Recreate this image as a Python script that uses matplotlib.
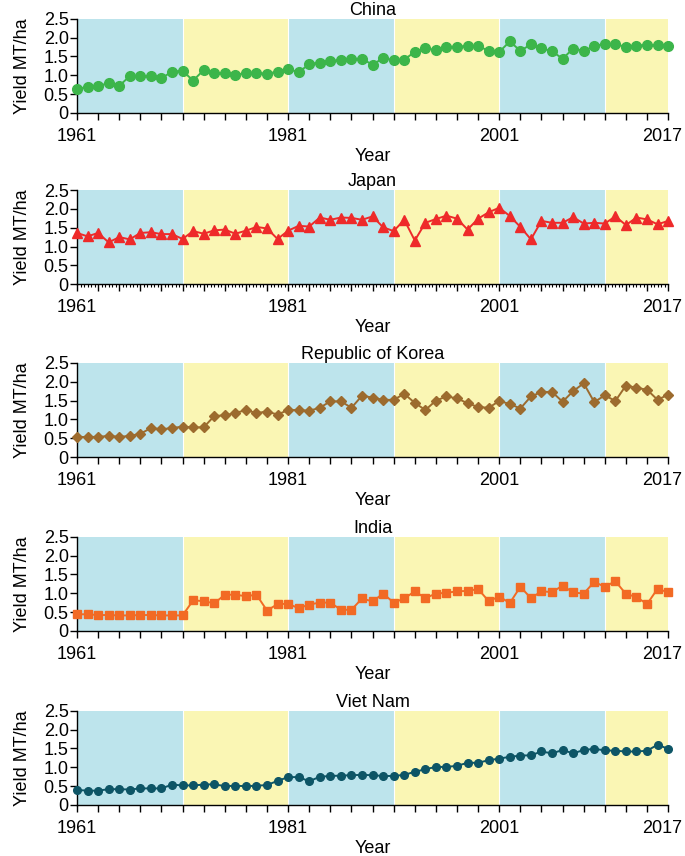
import numpy as np
import matplotlib
matplotlib.use('Agg')
import matplotlib.pyplot as plt
import matplotlib.transforms as mtransforms
from matplotlib.ticker import MultipleLocator

plt.rcParams['font.family'] = ['Liberation Sans', 'DejaVu Sans']

# 数据
years = list(range(1961, 2018))

china = [0.64, 0.69, 0.72, 0.79, 0.72, 0.98, 0.98, 0.97, 0.92, 1.10,
         1.12, 0.86, 1.14, 1.05, 1.05, 1.00, 1.07, 1.07, 1.04, 1.10,
         1.17, 1.08, 1.30, 1.34, 1.38, 1.41, 1.44, 1.44, 1.28, 1.46,
         1.40, 1.42, 1.62, 1.73, 1.66, 1.76, 1.76, 1.78, 1.78, 1.65,
         1.62, 1.90, 1.65, 1.82, 1.72, 1.64, 1.44, 1.71, 1.65, 1.77,
         1.84, 1.82, 1.76, 1.79, 1.81, 1.80, 1.79]

japan = [1.36, 1.27, 1.36, 1.11, 1.25, 1.19, 1.36, 1.38, 1.33, 1.33,
         1.20, 1.41, 1.34, 1.43, 1.45, 1.34, 1.42, 1.52, 1.48, 1.20,
         1.42, 1.55, 1.53, 1.77, 1.71, 1.77, 1.76, 1.71, 1.80, 1.51,
         1.41, 1.71, 1.16, 1.63, 1.73, 1.82, 1.74, 1.45, 1.74, 1.91,
         2.03, 1.81, 1.52, 1.19, 1.68, 1.63, 1.63, 1.78, 1.61, 1.63,
         1.61, 1.80, 1.57, 1.77, 1.72, 1.59, 1.68]

korea = [0.54, 0.53, 0.54, 0.56, 0.54, 0.56, 0.62, 0.77, 0.74, 0.77,
         0.81, 0.79, 0.79, 1.09, 1.11, 1.17, 1.25, 1.17, 1.21, 1.13,
         1.25, 1.25, 1.23, 1.31, 1.48, 1.48, 1.31, 1.63, 1.58, 1.52,
         1.52, 1.68, 1.44, 1.25, 1.50, 1.61, 1.56, 1.43, 1.33, 1.31,
         1.49, 1.41, 1.29, 1.61, 1.73, 1.73, 1.47, 1.75, 1.96, 1.46,
         1.64, 1.49, 1.90, 1.84, 1.79, 1.52, 1.66]

india = [0.44, 0.44, 0.42, 0.42, 0.41, 0.41, 0.42, 0.42, 0.41, 0.41,
         0.41, 0.81, 0.79, 0.73, 0.96, 0.96, 0.92, 0.96, 0.54, 0.71,
         0.72, 0.60, 0.70, 0.75, 0.75, 0.56, 0.56, 0.86, 0.78, 0.99,
         0.75, 0.86, 1.05, 0.87, 0.99, 1.01, 1.05, 1.06, 1.11, 0.79,
         0.91, 0.74, 1.17, 0.87, 1.05, 1.03, 1.20, 1.02, 0.99, 1.30,
         1.17, 1.32, 0.98, 0.90, 0.71, 1.12, 1.02]

vietnam = [0.40, 0.38, 0.38, 0.42, 0.42, 0.41, 0.44, 0.44, 0.44, 0.54,
           0.52, 0.52, 0.54, 0.55, 0.50, 0.51, 0.50, 0.51, 0.53, 0.64,
           0.74, 0.74, 0.63, 0.75, 0.77, 0.78, 0.79, 0.80, 0.79, 0.77,
           0.77, 0.80, 0.88, 0.95, 1.01, 1.01, 1.04, 1.12, 1.12, 1.19,
           1.23, 1.28, 1.31, 1.32, 1.42, 1.37, 1.46, 1.37, 1.46, 1.49,
           1.45, 1.44, 1.42, 1.42, 1.44, 1.60, 1.49]

countries = ['China', 'Japan', 'Republic of Korea', 'India', 'Viet Nam']
series = [china, japan, korea, india, vietnam]
colors = ['#3cb54a', '#ee2a2a', '#9c6b2e', '#f26a24', '#0d5566']
markers = ['o', '^', 'D', 's', 'o']
msizes = [7, 6.5, 5.5, 5.5, 5.5]

# 背景色带（每十年）
band_edges = [1961, 1971, 1981, 1991, 2001, 2011, 2017]
band_colors = ['#bde4ec', '#faf6b4']
xticks = list(range(1961, 2018, 2))
xlabels = [str(t) if t in (1961, 1981, 2001, 2017) else '' for t in xticks]

fig = plt.figure(figsize=(6.85, 8.56), dpi=100)
bottoms = [0.868, 0.668, 0.466, 0.263, 0.0596]
shift = mtransforms.ScaledTranslation(-6 / 100, 0, fig.dpi_scale_trans)

for i in range(5):
    ax = fig.add_axes([0.1124, bottoms[i], 0.863, 0.110])
    for k in range(len(band_edges) - 1):
        ax.axvspan(band_edges[k], band_edges[k + 1], color=band_colors[k % 2],
                   lw=0, zorder=0)
        if k > 0:
            ax.axvline(band_edges[k], color='white', lw=0.8, zorder=0.5)
    ax.plot(years, series[i], color=colors[i], marker=markers[i],
            markersize=msizes[i], lw=1.4, zorder=3, clip_on=False)
    ax.set_xlim(1961, 2017)
    ax.set_ylim(0, 2.5)
    ax.set_yticks([0, 0.5, 1.0, 1.5, 2.0, 2.5])
    ax.set_yticklabels(['0', '0.5', '1.0', '1.5', '2.0', '2.5'])
    ax.set_xticks(xticks)
    ax.set_xticklabels(xlabels)
    if i == 1:
        ax.xaxis.set_minor_locator(MultipleLocator(1 / 3))
        ax.tick_params(axis='x', which='minor', length=2, width=0.8)
    ax.tick_params(axis='both', which='major', length=5, width=1,
                   labelsize=13, direction='out')
    ax.tick_params(axis='x', pad=6)
    ax.tick_params(axis='y', pad=1)
    # 最后一个标签左移，避免被裁切
    last = ax.get_xticklabels()[-1]
    last.set_transform(last.get_transform() + shift)
    for s in ['top', 'right']:
        ax.spines[s].set_visible(False)
    ax.spines['left'].set_linewidth(1)
    ax.spines['bottom'].set_linewidth(1)
    ax.set_title(countries[i], fontsize=13, pad=2)
    ax.set_xlabel('Year', fontsize=13, labelpad=2)
    ax.set_ylabel('Yield MT/ha', fontsize=13, labelpad=9)

plt.savefig('out.png', dpi=100)
